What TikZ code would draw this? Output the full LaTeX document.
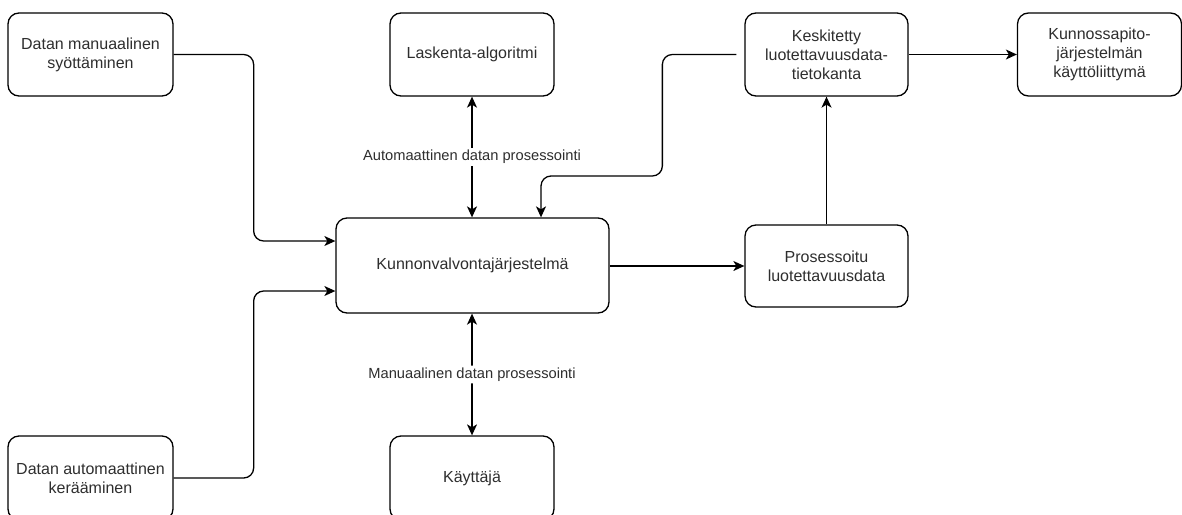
\documentclass[tikz,border=0pt]{standalone}
\usepackage{fontspec}
\setmainfont{Liberation Sans}
\usetikzlibrary{arrows.meta,calc}

\tikzset{
  box/.style={draw=black, line width=1.3pt, rounded corners=11pt, fill=white,
    align=center, text=black!82, inner sep=0pt,
    font=\fontsize{16}{19}\selectfont},
  conn/.style={draw=black, line width=1.3pt, rounded corners=10pt},
  tip/.style={-{Stealth[length=11pt,width=10pt,inset=3pt]}},
  tips/.style={{Stealth[length=11pt,width=10pt,inset=3pt]}-{Stealth[length=11pt,width=10pt,inset=3pt]}},
  lbl/.style={fill=white, text=black!82, inner sep=2pt,
    font=\fontsize{14.67}{17}\selectfont},
}

\begin{document}
\begin{tikzpicture}[x=1pt, y=-1pt]
  \useasboundingbox (0,0) rectangle (1182,514);
  \clip (0,0) rectangle (1182,514);

  % boxes
  \node[box, minimum width=165pt, minimum height=83pt] (man) at (90.5,54.5)
    {Datan manuaalinen\\syöttäminen};
  \node[box, minimum width=165pt, minimum height=84pt] (auto) at (90.5,478)
    {Datan automaattinen\\kerääminen};
  \node[box, minimum width=164pt, minimum height=83pt] (lask) at (472,54.5)
    {Laskenta-algoritmi};
  \node[box, minimum width=164pt, minimum height=84pt] (kay) at (472,478)
    {Käyttäjä};
  \node[box, minimum width=273pt, minimum height=95pt] (kunnon) at (472.5,265.5)
    {Kunnonvalvontajärjestelmä};
  \node[box, minimum width=163pt, minimum height=83pt] (kesk) at (826.5,54.5)
    {Keskitetty\\luotettavuusdata-\\tietokanta};
  \node[box, minimum width=164pt, minimum height=83pt] (kunnos) at (1099.5,54.5)
    {Kunnossapito-\\järjestelmän\\käyttöliittymä};
  \node[box, minimum width=163pt, minimum height=82pt] (pros) at (826.5,266)
    {Prosessoitu\\luotettavuusdata};

  % inputs into the monitoring system
  \draw[conn, tip] (man.east) -- ++(80,0) |- ([yshift=24.5pt]kunnon.west);
  \draw[conn, tip] (auto.east) -- ++(80,0) |- ([yshift=-25.5pt]kunnon.west);

  % two-way processing links
  \draw[conn, tips] (lask.south) -- (lask.south |- kunnon.north)
    node[lbl, midway] {Automaattinen datan prosessointi};
  \draw[conn, tips] (kunnon.south -| kay.north) -- (kay.north)
    node[lbl, midway] {Manuaalinen datan prosessointi};

  % processed data flow
  \draw[conn, tip] (kunnon.east |- pros.west) -- (pros.west);
  \draw[conn, tip] (pros.north) -- (kesk.south);
  \draw[conn, tip] (kesk.east) -- (kunnos.west);

  % feedback from the central database
  \draw[conn, tip, shorten <=8pt] (kesk.west) -- ++(-82,0) -- ++(0,121.5)
    -| ([xshift=68.5pt]kunnon.north);
\end{tikzpicture}
\end{document}
